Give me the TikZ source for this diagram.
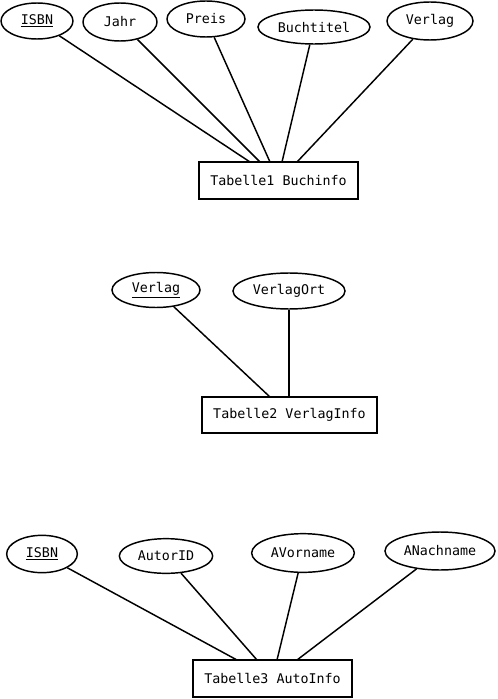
\documentclass[tikz,border=0pt]{standalone}
\usepackage{fontspec}
\setmonofont{DejaVu Sans Mono}
\usetikzlibrary{shapes.geometric}

\begin{document}
\begin{tikzpicture}[
		x=0.75pt, y=-0.75pt,
		every node/.style={draw, line width=1.1pt, inner sep=0pt, font=\ttfamily\fontsize{10pt}{12pt}\selectfont},
		attr/.style={ellipse},
		table/.style={rectangle}
	]
  \useasboundingbox (0,0) rectangle (497,699);
  % Tabelle1
  \node (isbn1) [attr, minimum width=54pt, minimum height=27pt] at (37,21) {\underline{ISBN}};
  \node (jahr) [attr, minimum width=55.5pt, minimum height=28.5pt] at (120,22) {Jahr};
  \node (preis) [attr, minimum width=58.5pt, minimum height=27pt] at (206,19) {Preis};
  \node (buchtitel) [attr, minimum width=84pt, minimum height=25.5pt] at (314,27) {Buchtitel};
  \node (verlag1) [attr, minimum width=64.5pt, minimum height=28.5pt] at (430,21) {Verlag};
  \node (tab1) [table, minimum width=119.25pt, minimum height=27.75pt] at (278.5,180.5) {Tabelle1 Buchinfo};
  \coordinate (t1a) at (250,162);
  \coordinate (t1b) at (260,162);
  \coordinate (t1c) at (270,162);
  \coordinate (t1d) at (282,162);
  \coordinate (t1e) at (297,162);
  \draw[line width=1.1pt] (isbn1) edge (t1a);
  \draw[line width=1.1pt] (jahr) edge (t1b);
  \draw[line width=1.1pt] (preis) edge (t1c);
  \draw[line width=1.1pt] (buchtitel) edge (t1d);
  \draw[line width=1.1pt] (verlag1) edge (t1e);
  % Tabelle2
  \node (verlag2) [attr, minimum width=66pt, minimum height=26.25pt] at (156,290) {\underline{Verlag}};
  \node (verlagort) [attr, minimum width=84pt, minimum height=27pt] at (289,291) {VerlagOrt};
  \node (tab2) [table, minimum width=131.25pt, minimum height=27pt] at (289.5,415) {Tabelle2 VerlagInfo};
  \coordinate (t2a) at (270,397);
  \coordinate (t2b) at (289,397);
  \draw[line width=1.1pt] (verlag2) edge (t2a);
  \draw[line width=1.1pt] (verlagort) edge (t2b);
  % Tabelle3
  \node (isbn3) [attr, minimum width=53pt, minimum height=28pt] at (42,554) {\underline{ISBN}};
  \node (autorid) [attr, minimum width=70pt, minimum height=26pt] at (166,556) {AutorID};
  \node (avorname) [attr, minimum width=77pt, minimum height=29pt] at (303,553) {AVorname};
  \node (anachname) [attr, minimum width=82.5pt, minimum height=28.5pt] at (440,551) {ANachname};
  \node (tab3) [table, minimum width=119.25pt, minimum height=27.75pt] at (272.5,678.5) {Tabelle3 AutoInfo};
  \coordinate (t3a) at (237,660);
  \coordinate (t3b) at (257,660);
  \coordinate (t3c) at (277,660);
  \coordinate (t3d) at (297,660);
  \draw[line width=1.1pt] (isbn3) edge (t3a);
  \draw[line width=1.1pt] (autorid) edge (t3b);
  \draw[line width=1.1pt] (avorname) edge (t3c);
  \draw[line width=1.1pt] (anachname) edge (t3d);
\end{tikzpicture}
\end{document}
